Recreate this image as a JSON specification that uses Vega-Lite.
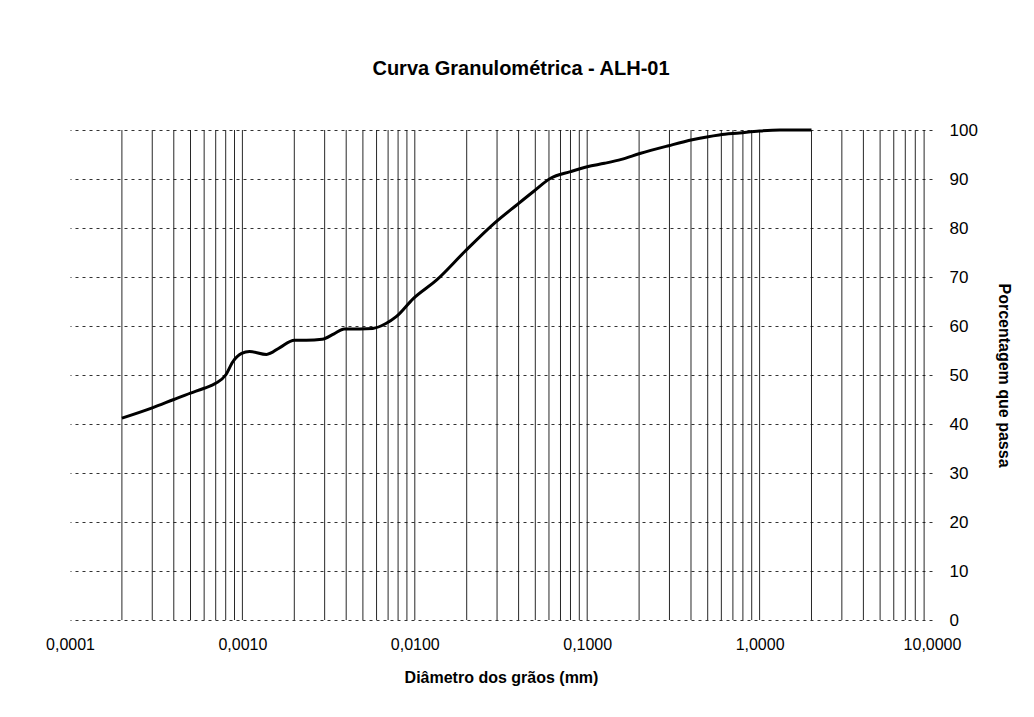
{
  "$schema": "https://vega.github.io/schema/vega-lite/v6.json",
  "autosize": {"type": "none"},
  "width": 862,
  "height": 490,
  "padding": {"left": 70, "top": 130, "right": 102, "bottom": 97},
  "background": "white",
  "config": {
    "font": "Liberation Sans",
    "view": {"stroke": null}
  },
  "title": {
    "text": "Curva Granulométrica - ALH-01",
    "fontSize": 20,
    "fontWeight": "bold",
    "font": "Liberation Sans",
    "color": "#000",
    "offset": 42,
    "dx": 20
  },
  "datasets": {
    "grid": [
      {"d": 0.0002}, {"d": 0.0003}, {"d": 0.0004}, {"d": 0.0005}, {"d": 0.0006}, {"d": 0.0007}, {"d": 0.0008}, {"d": 0.0009},
      {"d": 0.001}, {"d": 0.002}, {"d": 0.003}, {"d": 0.004}, {"d": 0.005}, {"d": 0.006}, {"d": 0.007}, {"d": 0.008}, {"d": 0.009},
      {"d": 0.01}, {"d": 0.02}, {"d": 0.03}, {"d": 0.04}, {"d": 0.05}, {"d": 0.06}, {"d": 0.07}, {"d": 0.08}, {"d": 0.09},
      {"d": 0.1}, {"d": 0.2}, {"d": 0.3}, {"d": 0.4}, {"d": 0.5}, {"d": 0.6}, {"d": 0.7}, {"d": 0.8}, {"d": 0.9},
      {"d": 1}, {"d": 2}, {"d": 3}, {"d": 4}, {"d": 5}, {"d": 6}, {"d": 7}, {"d": 8}, {"d": 9}
    ],
    "curve": [
      {"d": 0.0002, "p": 41.2},
      {"d": 0.0003, "p": 43.3},
      {"d": 0.0004, "p": 45.0},
      {"d": 0.0005, "p": 46.3},
      {"d": 0.0006, "p": 47.3},
      {"d": 0.0007, "p": 48.3},
      {"d": 0.0008, "p": 50.0},
      {"d": 0.00088, "p": 52.7},
      {"d": 0.00099, "p": 54.4},
      {"d": 0.0011, "p": 54.8},
      {"d": 0.00138, "p": 54.2},
      {"d": 0.00165, "p": 55.6},
      {"d": 0.002, "p": 57.1},
      {"d": 0.00235, "p": 57.1},
      {"d": 0.0029, "p": 57.3},
      {"d": 0.0034, "p": 58.4},
      {"d": 0.0039, "p": 59.4},
      {"d": 0.0048, "p": 59.4},
      {"d": 0.0057, "p": 59.5},
      {"d": 0.0068, "p": 60.5},
      {"d": 0.0078, "p": 61.9},
      {"d": 0.0098, "p": 65.6},
      {"d": 0.0134, "p": 69.4},
      {"d": 0.0195, "p": 75.2},
      {"d": 0.029, "p": 81.0},
      {"d": 0.039, "p": 84.7},
      {"d": 0.0486, "p": 87.4},
      {"d": 0.061, "p": 90.1},
      {"d": 0.08, "p": 91.5},
      {"d": 0.1, "p": 92.5},
      {"d": 0.126, "p": 93.2},
      {"d": 0.158, "p": 94.0},
      {"d": 0.202, "p": 95.2},
      {"d": 0.297, "p": 96.8},
      {"d": 0.407, "p": 98.0},
      {"d": 0.583, "p": 99.0},
      {"d": 0.765, "p": 99.4},
      {"d": 1.0, "p": 99.8},
      {"d": 1.31, "p": 100},
      {"d": 2.0, "p": 100}
    ]
  },
  "layer": [
    {
      "data": {"name": "grid"},
      "mark": {"type": "rule", "stroke": "#111", "strokeWidth": 1, "opacity": 0.9},
      "encoding": {
        "x": {
          "field": "d",
          "type": "quantitative",
          "scale": {"type": "log", "domain": [0.0001, 10]},
          "axis": {
            "title": "Diâmetro dos grãos (mm)",
            "values": [0.0001, 0.001, 0.01, 0.1, 1, 10],
            "labelExpr": "replace(format(datum.value, '.4f'), '.', ',')",
            "grid": false,
            "ticks": false,
            "domain": false,
            "labelFontSize": 16,
            "labelColor": "#000",
            "labelPadding": 16,
            "labelFlush": false,
            "labelOverlap": false,
            "titleFontSize": 16,
            "titleFontWeight": "bold",
            "titleColor": "#000",
            "titlePadding": 17
          }
        }
      }
    },
    {
      "data": {"name": "curve"},
      "mark": {"type": "line", "color": "#000", "strokeWidth": 3, "interpolate": "monotone"},
      "encoding": {
        "x": {
          "field": "d",
          "type": "quantitative",
          "scale": {"type": "log", "domain": [0.0001, 10]},
          "axis": {
            "title": "Diâmetro dos grãos (mm)",
            "values": [0.0001, 0.001, 0.01, 0.1, 1, 10],
            "labelExpr": "replace(format(datum.value, '.4f'), '.', ',')",
            "grid": false,
            "ticks": false,
            "domain": false,
            "labelFontSize": 16,
            "labelColor": "#000",
            "labelPadding": 16,
            "labelFlush": false,
            "labelOverlap": false,
            "titleFontSize": 16,
            "titleFontWeight": "bold",
            "titleColor": "#000",
            "titlePadding": 17
          }
        },
        "y": {
          "field": "p",
          "type": "quantitative",
          "scale": {"domain": [0, 100], "nice": false},
          "axis": {
            "orient": "right",
            "title": "Porcentagem que passa",
            "values": [0, 10, 20, 30, 40, 50, 60, 70, 80, 90, 100],
            "grid": true,
            "gridColor": "#333",
            "gridDash": [3, 4],
            "gridWidth": 1,
            "ticks": false,
            "domain": false,
            "labelFontSize": 17,
            "labelColor": "#000",
            "labelPadding": 17,
            "titleFontSize": 16,
            "titleFontWeight": "bold",
            "titleColor": "#000",
            "titlePadding": 18
          }
        }
      }
    }
  ]
}
